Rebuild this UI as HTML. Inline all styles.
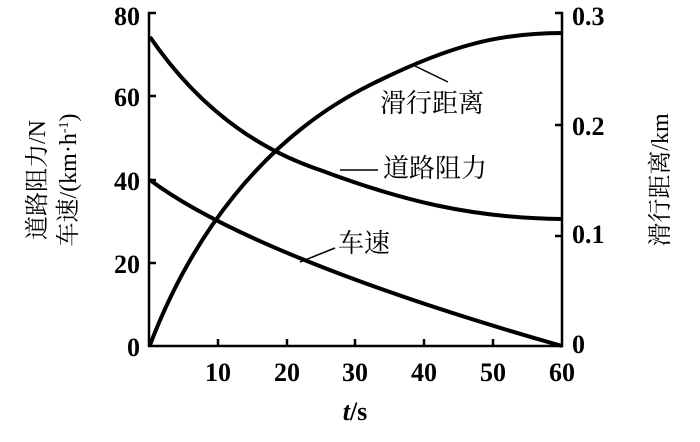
<!DOCTYPE html>
<html><head><meta charset="utf-8"><style>
html,body{margin:0;padding:0;background:#fff;width:700px;height:442px;overflow:hidden}
text{font-family:"Liberation Serif","Noto Serif CJK SC",serif;fill:#000}
</style></head><body>
<svg width="700" height="442" viewBox="0 0 700 442" xmlns="http://www.w3.org/2000/svg">
<g stroke="#000" stroke-width="2.5" fill="none">
<path d="M156,13 H149 V346 H562 V13 H555"/>
<path d="M149,96 H156 M149,180 H156 M149,263 H156"/>
<path d="M562,125 H555 M562,236 H555"/>
<path d="M218,346 V339 M287,346 V339 M355,346 V339 M424,346 V339 M493,346 V339"/>
</g>
<g stroke="#000" stroke-width="4" fill="none">
<path d="M150,345 C190,240 260,140 370,85 C450,45 500,33 562,33"/>
<path d="M150,37 C200,110 260,150 320,170 C400,200 470,218 562,219"/>
<path d="M150,180 C230,240 400,300 562,346"/>
</g>
<g stroke="#000" stroke-width="1.5">
<line x1="415" y1="66" x2="448" y2="82"/>
<line x1="340" y1="170" x2="378" y2="170"/>
<line x1="300" y1="262" x2="335" y2="248"/>
</g>
<g font-size="26" font-weight="bold">
<text x="140" y="25" text-anchor="end">80</text>
<text x="140" y="106" text-anchor="end">60</text>
<text x="140" y="190" text-anchor="end">40</text>
<text x="140" y="273" text-anchor="end">20</text>
<text x="140" y="356" text-anchor="end">0</text>
<text x="572" y="25">0.3</text>
<text x="572" y="135">0.2</text>
<text x="572" y="243">0.1</text>
<text x="572" y="353">0</text>
<text x="218" y="381" text-anchor="middle">10</text>
<text x="287" y="381" text-anchor="middle">20</text>
<text x="355" y="381" text-anchor="middle">30</text>
<text x="424" y="381" text-anchor="middle">40</text>
<text x="493" y="381" text-anchor="middle">50</text>
<text x="562" y="381" text-anchor="middle">60</text>
<text x="355" y="420" text-anchor="middle"><tspan font-style="italic">t</tspan>/s</text>
</g>
<g font-size="26">
<text x="380" y="112">滑行距离</text>
<text x="383" y="177">道路阻力</text>
<text x="338" y="252">车速</text>
<text transform="translate(45,180) rotate(-90)" text-anchor="middle" font-size="24">道路阻力/N</text>
<text transform="translate(76,180) rotate(-90)" text-anchor="middle" font-size="24">车速/(km·h<tspan font-size="14" dy="-8">-1</tspan><tspan dy="8">)</tspan></text>
<text transform="translate(668,180) rotate(-90)" text-anchor="middle" font-size="24">滑行距离/km</text>
</g>
</svg>
</body></html>
